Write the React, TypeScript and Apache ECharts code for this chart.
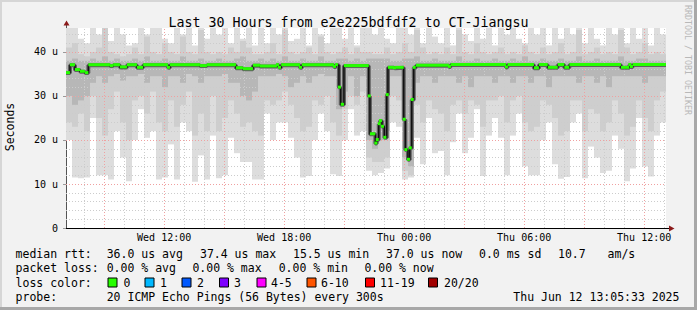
import React, { useEffect, useRef } from "react";
import * as echarts from "echarts";

const TITLE = "Last 30 Hours from e2e225bdfdf2 to CT-Jiangsu";
const START_H = 7.0925; // Wed 07:05:33 (hours since Wed 00:00)
const END_H = 37.0925; // Thu 13:05:33
const COL_H = 0.3; // width of one smoke column, hours
const Y_MAX = 45.4545;

const xTickHours = [12, 18, 24, 30, 36];
const xTickLabels = ["Wed 12:00", "Wed 18:00", "Thu 00:00", "Thu 06:00", "Thu 12:00"];
const yTickLabels = ["0", "10 u", "20 u", "30 u", "40 u"];

// smoke (microseconds), one value per 18-minute column
const smokeLo = [
  20, 11.5, 11.3, 11.5, 25, 12, 12, 11, 22, 16, 10.6, 20, 27, 20.5, 22, 11, 11.5, 19, 11, 24, 22, 10.5, 16.5, 11, 21,
  11.3, 12, 20.5, 17, 15, 15, 11, 11, 26, 20, 24, 24, 20.5, 16, 11.5, 11.8, 20, 26, 22, 12.2, 11.8, 20, 27, 21, 22,
  13, 12, 12.5, 13.5, 24, 23, 11, 11.5, 20.5, 14.5, 25, 17, 17.5, 12, 19.5, 26, 17, 20.5, 27, 11.8, 21, 25, 20.5, 12, 21,
  26, 14, 12, 12, 20, 24, 14.5, 11.2, 11.6, 24, 26, 11.3, 18.5, 16, 12.5, 13, 21, 18, 10.6, 13.5, 25, 14, 11.7, 21, 24,
];
const smokeHi = [
  46, 46, 43, 42, 46, 44, 46, 42.5, 46, 44, 41.5, 42, 46, 44, 46, 46, 43, 42, 46, 44, 46, 41.5, 46, 43, 46,
  44, 46, 42, 46, 43, 46, 41.5, 46, 42, 46, 44, 46, 42.5, 43, 46, 41.5, 46, 44, 42, 46, 46, 43, 46, 41.5, 46,
  46, 44, 46, 43, 42, 46, 46, 44, 46, 42, 46, 43.5, 42, 46, 41.5, 46, 44, 42.5, 46, 43, 46, 41.5, 46, 44, 46,
  43, 42, 46, 44, 46, 41.5, 46, 43, 46, 44, 46, 42, 46, 43, 41.5, 46, 44, 46, 42, 46, 43, 46, 41.5, 46, 44,
];
const midLo = [
  24, 23, 26, 22, 30, 25, 21, 27, 31, 24, 20, 29, 30, 26, 31, 24, 22, 29, 23, 28, 31, 21, 26, 22, 30,
  22, 25, 29, 26, 23, 24, 22, 21, 29, 28, 29, 31, 28, 25, 22, 23, 29, 28, 30, 24, 21, 27, 30, 28, 31,
  16, 15, 15, 16, 30, 29, 13, 12, 28, 24, 29, 27, 26, 22, 28, 29, 26, 29, 28, 23, 29, 29, 30, 24, 29,
  30, 24, 22, 23, 29, 28, 25, 21, 22, 29, 29, 22, 27, 26, 22, 24, 29, 26, 21, 23, 29, 25, 22, 29, 31,
];
const midHi = [
  41, 42, 39.5, 39, 40, 41, 46, 40, 39.5, 39, 39.5, 41, 39.5, 43.5, 40, 39.5, 42, 40, 39.5, 43.5, 40, 39.5, 45, 40, 39.5,
  40, 39.5, 41, 40, 42.5, 41, 39.5, 39.5, 40, 42, 39.5, 45, 40, 39.5, 40, 41, 39.5, 43.5, 40, 39.5, 40, 41, 39.5, 41, 40,
  40, 39.5, 39.5, 41, 39.5, 40, 42, 40, 45, 41, 39.5, 40, 39.5, 41, 39.5, 45, 40, 39.5, 42, 40, 39.5, 40, 41, 39.5, 40,
  39.5, 41.5, 40, 39.5, 41, 39.5, 40, 42, 39.5, 40, 45, 39.5, 40, 41, 39.5, 40, 39.5, 45, 41, 39.5, 40, 42, 39.5, 40, 39.5,
];
const deepLo = [
  30, 28, 29, 30, 33, 34.5, 33, 34.5, 35, 33.5, 34.5, 34.5, 35, 33, 34.5, 34.5, 32, 34.5, 34.5, 33, 35, 34.5, 33, 34.5, 34.5,
  34.5, 35, 33, 33, 30, 29, 31, 34.5, 34.5, 34.5, 35, 34.5, 32, 33, 34.5, 33, 34.5, 35, 34.5, 34.5, 27, 31, 34.5, 30, 34.5,
  20, 18, 20, 22, 34.5, 34.5, 16, 14, 33, 34.5, 34.5, 33, 34.5, 34.5, 34.5, 33, 34.5, 32, 34.5, 34.5, 34.5, 33, 34.5, 34.5, 33,
  34.5, 34.5, 33, 34.5, 34.5, 32, 34.5, 34.5, 34.5, 34.5, 33, 34.5, 34.5, 33, 34.5, 32, 34.5, 34.5, 34.5, 34.5, 34.5, 33, 34.5, 34.5, 34.5,
];
const deepHi = [
  38, 38.5, 38, 38, 38.5, 38, 39, 38, 38.5, 38, 38, 38.5, 38, 39, 38, 38, 38.5, 38, 38, 39, 38, 38, 38.5, 38, 38,
  38.5, 38, 38, 38.5, 39, 38, 38, 38.5, 38, 38.5, 38, 39, 38, 38, 38.5, 38, 38, 39, 38, 38, 38.5, 38.5, 38, 38.5, 38,
  38.5, 38.5, 38.5, 38.5, 38, 38, 38.5, 38.5, 39, 38, 38, 38.5, 38, 38, 38, 39, 38, 38, 38.5, 38, 38, 38.5, 38, 38, 38.5,
  38, 39, 38, 38, 38.5, 38, 38, 38.5, 38, 38, 39, 38, 38, 38.5, 38, 38, 38, 39, 38, 38, 38.5, 38.5, 38, 38, 38,
];

// median rtt steps: start hour and value (microseconds)
const medianStart = [
  7.0925, 7.29, 7.54, 7.79, 8.04, 8.21, 9.29, 9.45, 9.79, 10.14, 10.64, 10.95, 12.19, 12.29, 13.79, 14.14, 15.59, 15.94,
  16.44, 16.79, 17.64, 17.74, 17.85, 18.79, 18.89, 20.49, 20.59, 20.74, 20.83, 20.99, 22.23, 22.29, 22.56, 22.63, 22.73,
  22.79, 22.89, 23.01, 23.13, 23.19, 23.49, 23.56, 23.98, 24.06, 24.19, 24.28, 24.38, 24.48, 24.59, 26.24, 26.32, 29.09,
  29.17, 30.49, 30.74, 31.18, 31.68, 32.01, 32.26, 34.84, 35.26, 35.34, 35.43,
];
const medianValue = [
  35.2, 37.0, 35.9, 35.5, 35.2, 37.0, 36.8, 37.0, 36.5, 37.0, 36.4, 37.0, 36.4, 37.0, 36.8, 37.0, 36.3, 36.1,
  36.9, 36.7, 37.0, 36.4, 37.0, 36.4, 37.0, 36.6, 37.0, 31.9, 28.0, 36.8, 29.9, 21.3, 19.2, 20.0, 23.6,
  24.3, 23.0, 20.5, 30.2, 36.4, 36.3, 36.4, 24.6, 17.7, 15.5, 18.1, 29.1, 36.4, 36.9, 36.6, 37.05, 36.5,
  37.05, 36.3, 37.05, 36.4, 37.05, 36.4, 37.05, 36.4, 37.05, 36.6, 37.05,
];

const statsMedian = ["36.0 us avg", "37.4 us max", "15.5 us min", "37.0 us now", "0.0 ms sd", "10.7", "am/s"];
const statsLoss = ["0.00 % avg", "0.00 % max", "0.00 % min", "0.00 % now"];
const lossLabels = ["0", "1", "2", "3", "4-5", "6-10", "11-19", "20/20"];
const lossColors = ["#26ff00", "#00b8ff", "#0059ff", "#7e00ff", "#ff00ff", "#ff5500", "#ff0000", "#a10000"];
const probeText = "20 ICMP Echo Pings (56 Bytes) every 300s";
const stampText = "Thu Jun 12 13:05:33 2025";

const MONO = '"DejaVu Sans Mono", monospace';

function bandSeries(lo: number[], hi: number[], color: string, z: number) {
  return {
    type: "custom",
    z,
    silent: true,
    clip: true,
    encode: { x: [0, 1], y: [2, 3] },
    data: lo.map((v, i) => [START_H + i * COL_H, START_H + (i + 1) * COL_H, v, hi[i]]),
    renderItem: (_p: any, api: any) => {
      const a = api.coord([api.value(0), Math.min(api.value(3), Y_MAX)]);
      const b = api.coord([api.value(1), api.value(2)]);
      return {
        type: "rect",
        shape: { x: a[0], y: a[1], width: b[0] - a[0], height: b[1] - a[1] },
        style: { fill: color },
      };
    },
  };
}

export default function App() {
  const ref = useRef<HTMLDivElement>(null);
  useEffect(() => {
    if (!ref.current) return;
    const chart = echarts.init(ref.current, undefined, { renderer: "svg" });

    const stepData = medianStart.map((t, i) => [t, medianValue[i]]);
    stepData.push([END_H, medianValue[medianValue.length - 1]]);
    const greenData = medianStart.map((t, i) => [t, i + 1 < medianStart.length ? medianStart[i + 1] : END_H, medianValue[i]]);

    const grid: any[] = [];
    for (let h = 8; h <= 37; h++) {
      grid.push({ xAxis: h, lineStyle: { color: h % 3 === 0 ? "#f0a0a0" : "#cccccc", type: [1, 2], width: 1 } });
    }
    for (let v = 2; v <= 44; v += 2) {
      grid.push({ yAxis: v, lineStyle: { color: v % 10 === 0 ? "#f0a0a0" : "#cccccc", type: [1, 2], width: 1 } });
    }

    const txt = (text: string, x: number, y: number, extra: any = {}) => ({
      type: "text",
      x,
      y,
      silent: true,
      style: { text, font: `11.5px ${MONO}`, fill: "#000", align: "left", verticalAlign: "middle", textAlign: "left", textVerticalAlign: "middle", ...extra },
    });

    const statX = [106.7, 200, 293, 386, 479, 558, 607.6];
    const lossX = [106.7, 192.4, 278.7, 364.4];
    const boxX = [108, 145, 182, 219.5, 257, 307, 365.5, 428.5];
    const lblX = [123.6, 160, 197, 234, 271, 321, 380, 444];

    const graphics: any[] = [
      { type: "rect", shape: { x: 0, y: 0, width: 697, height: 2 }, style: { fill: "#d6d6d6" }, silent: true },
      { type: "rect", shape: { x: 0, y: 0, width: 2, height: 310 }, style: { fill: "#d6d6d6" }, silent: true },
      { type: "rect", shape: { x: 694, y: 0, width: 3, height: 310 }, style: { fill: "#a8a8a8" }, silent: true },
      { type: "rect", shape: { x: 0, y: 307, width: 697, height: 3 }, style: { fill: "#a8a8a8" }, silent: true },
      {
        type: "text", x: 687.5, y: 5, rotation: -Math.PI / 2, silent: true,
        style: { text: "RRDTOOL / TOBI OETIKER", font: `8.3px ${MONO}`, fill: "#b8b8b8", align: "left", verticalAlign: "middle", textAlign: "left", textVerticalAlign: "middle" },
      },
      {
        type: "text", x: 10, y: 127, rotation: Math.PI / 2, silent: true,
        style: { text: "Seconds", font: `11.5px ${MONO}`, fill: "#000", align: "center", verticalAlign: "middle", textAlign: "center", textVerticalAlign: "middle" },
      },
      { type: "line", shape: { x1: 66.5, y1: 24, x2: 66.5, y2: 28 }, style: { stroke: "#555", lineWidth: 1 }, silent: true },
      { type: "polygon", shape: { points: [[63.5, 25.5], [69.5, 25.5], [66.5, 20.5]] }, style: { fill: "#8b1a1a" }, silent: true },
      { type: "line", shape: { x1: 666, y1: 228.5, x2: 670, y2: 228.5 }, style: { stroke: "#000", lineWidth: 1 }, silent: true },
      { type: "polygon", shape: { points: [[669, 225.5], [669, 231.5], [674.5, 228.5]] }, style: { fill: "#8b1a1a" }, silent: true },
      txt("median rtt:", 15.6, 254.3),
      ...statsMedian.map((s, i) => txt(s, statX[i], 254.3)),
      txt("packet loss:", 15.6, 268.3),
      ...statsLoss.map((s, i) => txt(s, lossX[i], 268.3)),
      txt("loss color:", 15.6, 282.5),
      ...lossColors.map((c, i) => ({
        type: "rect", silent: true,
        shape: { x: boxX[i], y: 278, width: 9, height: 9 },
        style: { fill: c, stroke: "#000", lineWidth: 1 },
      })),
      ...lossLabels.map((s, i) => txt(s, lblX[i], 282.5)),
      txt("probe:", 15.6, 296.5),
      txt(probeText, 106.7, 296.5),
      txt(stampText, 513.3, 296.5),
    ];

    chart.setOption({
      animation: false,
      backgroundColor: "#f2f2f2",
      title: {
        text: TITLE,
        left: "center",
        top: 11,
        textStyle: { fontFamily: MONO, fontSize: 13.3, fontWeight: "normal", color: "#000" },
      },
      grid: { left: 66, top: 28, width: 600, height: 200, show: true, backgroundColor: "#ffffff", borderWidth: 0 },
      xAxis: {
        type: "value",
        min: START_H,
        max: END_H,
        splitLine: { show: false },
        axisTick: { show: false },
        axisLine: { show: true, lineStyle: { color: "#000", width: 1 } },
        axisLabel: {
          customValues: xTickHours,
          formatter: (v: number) => {
            const i = xTickHours.indexOf(Math.round(v));
            return i >= 0 ? xTickLabels[i] : "";
          },
          fontFamily: MONO,
          fontSize: 10,
          color: "#000",
          margin: 4,
        },
      },
      yAxis: {
        type: "value",
        min: 0,
        max: Y_MAX,
        interval: 10,
        splitLine: { show: false },
        axisLine: { show: true, lineStyle: { color: "#555", width: 1 } },
        axisTick: { show: true, length: 3, lineStyle: { color: "#999" } },
        axisLabel: {
          showMaxLabel: false,
          formatter: (v: number) => {
            const i = Math.round(v / 10);
            return Math.abs(v - i * 10) < 0.01 && i < yTickLabels.length ? yTickLabels[i] : "";
          },
          fontFamily: MONO,
          fontSize: 10,
          color: "#000",
          margin: 8,
        },
      },
      series: [
        bandSeries(smokeLo, smokeHi, "#dddddd", 1),
        bandSeries(midLo, midHi, "#cecece", 2),
        bandSeries(deepLo, deepHi, "#b7b7b7", 3),
        {
          type: "line",
          z: 4,
          data: [],
          silent: true,
          markLine: { silent: true, symbol: ["none", "none"], label: { show: false }, data: grid },
        },
        {
          type: "line",
          z: 5,
          step: "end",
          data: stepData,
          showSymbol: false,
          symbol: "none",
          silent: true,
          lineStyle: { color: "#606060", width: 4 },
        },
        {
          type: "line",
          z: 6,
          step: "end",
          data: stepData,
          showSymbol: false,
          symbol: "none",
          silent: true,
          lineStyle: { color: "#111111", width: 1.5 },
        },
        {
          type: "custom",
          z: 7,
          silent: true,
          clip: true,
          encode: { x: [0, 1], y: 2 },
          data: greenData,
          renderItem: (_p: any, api: any) => {
            const a = api.coord([api.value(0), api.value(2)]);
            const b = api.coord([api.value(1), api.value(2)]);
            const w = Math.max(b[0] - a[0], 3);
            return {
              type: "rect",
              shape: { x: a[0] - (w > b[0] - a[0] ? 1 : 0), y: a[1] - 2, width: w, height: 3 },
              style: { fill: "#26ff00" },
            };
          },
        },
      ],
      graphic: graphics,
    });
    return () => chart.dispose();
  }, []);
  return <div ref={ref} style={{ position: "fixed", left: 0, top: 0, width: 697, height: 310 }} />;
}
